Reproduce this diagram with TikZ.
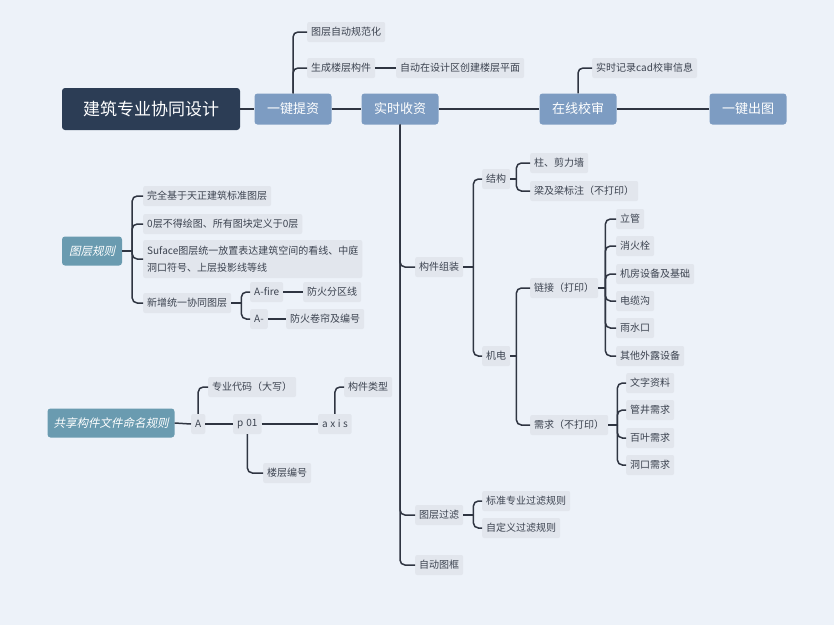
\documentclass[tikz,border=0pt]{standalone}
\usepackage{fontspec}
\setmainfont{Noto Sans CJK SC}
\newfontfamily\slantfont{Noto Sans CJK SC}[FakeSlant=0.22]
\usetikzlibrary{positioning}

\definecolor{bgcol}{HTML}{EDF2F9}
\definecolor{rootcol}{HTML}{2C3D55}
\definecolor{maincol}{HTML}{7D9CC2}
\definecolor{tealcol}{HTML}{6A9BB0}
\definecolor{leafcol}{HTML}{E2E6ED}
\definecolor{leaftext}{HTML}{3C4350}
\definecolor{linecol}{HTML}{2F3542}

\tikzset{
  leaf/.style={fill=leafcol, text=leaftext, rounded corners=2pt, inner xsep=4pt, inner ysep=0pt,
    minimum height=20pt, anchor=west, font=\fontsize{10}{14}\selectfont},
  topic/.style={fill=maincol, text=white, rounded corners=3pt, minimum width=77pt, minimum height=31pt,
    font=\fontsize{13}{15}\selectfont},
  rulebox/.style={fill=tealcol, text=white, rounded corners=3pt, minimum height=29pt, inner xsep=6pt,
    font=\slantfont\fontsize{11.5}{14}\selectfont},
  conn/.style={draw=linecol, line width=1.5pt, rounded corners=5pt},
}

\begin{document}
\begin{tikzpicture}[x=1pt, y=-1pt]
\fill[bgcol] (0,0) rectangle (834,625);
\useasboundingbox (0,0) rectangle (834,625);

% main row
\node (root) [fill=rootcol, text=white, rounded corners=3pt, minimum width=178pt, minimum height=42pt,
    font=\fontsize{17}{20}\selectfont] at (151,109) {建筑专业协同设计};
\node (tizi) [topic] at (293,109) {一键提资};
\node (shoushi) [topic] at (400,109) {实时收资};
\node (jiaoshen) [topic] at (578,109) {在线校审};
\node (chutu) [topic] at (748,109) {一键出图};

\draw[conn] (root.east) -- (tizi.west);
\draw[conn] (tizi.east) -- (shoushi.west);
\draw[conn] (shoushi.east) -- (jiaoshen.west);
\draw[conn] (jiaoshen.east) -- (chutu.west);

% 一键提资
\node (guifan) [leaf] at (307,32) {图层自动规范化};
\node (louceng) [leaf] at (307,68) {生成楼层构件};
\node (pingmian) [leaf] at (396,68) {自动在设计区创建楼层平面};
\draw[conn] (tizi.north) |- (guifan.west);
\draw[conn] (tizi.north) |- (louceng.west);
\draw[conn] (louceng.east) -- (pingmian.west);

% 在线校审
\node (jilu) [leaf] at (592,68) {实时记录cad校审信息};
\draw[conn] (jiaoshen.north) |- (jilu.west);

% 实时收资
\node (zuzhuang) [leaf] at (415,267) {构件组装};
\node (guolv) [leaf] at (415,515) {图层过滤};
\node (tukuang) [leaf] at (415,565) {自动图框};
\foreach \c in {zuzhuang, guolv, tukuang}
  \draw[conn] (shoushi.south) |- (\c.west);

\node (jiegou) [leaf] at (482,179) {结构};
\node (jidian) [leaf] at (482,356) {机电};
\draw[conn] (zuzhuang.east) -- ++(10,0) coordinate (zzbar);
\foreach \c in {jiegou, jidian}
  \draw[conn] (zzbar) |- (\c.west);

\node (zhu) [leaf] at (530,163) {柱、剪力墙};
\node (liang) [leaf] at (530,191) {梁及梁标注（不打印）};
\draw[conn] (jiegou.east) -- ++(6,0) coordinate (jgbar);
\foreach \c in {zhu, liang}
  \draw[conn] (jgbar) |- (\c.west);

\node (lianjie) [leaf] at (530,288) {链接（打印）};
\node (xuqiu) [leaf] at (530,425) {需求（不打印）};
\draw[conn] (jidian.east) -- ++(6,0) coordinate (jdbar);
\foreach \c in {lianjie, xuqiu}
  \draw[conn] (jdbar) |- (\c.west);

\node (ligguan) [leaf] at (616,219) {立管};
\node (xiaohuo) [leaf] at (616,246) {消火栓};
\node (jifang) [leaf] at (616,274) {机房设备及基础};
\node (dianlan) [leaf] at (616,301) {电缆沟};
\node (yushui) [leaf] at (616,328) {雨水口};
\node (qita) [leaf] at (616,356) {其他外露设备};
\draw[conn] (lianjie.east) -- ++(7,0) coordinate (ljbar);
\foreach \c in {ligguan, xiaohuo, jifang, dianlan, yushui, qita}
  \draw[conn] (ljbar) |- (\c.west);

\node (wenzi) [leaf] at (626,383) {文字资料};
\node (guanjing) [leaf] at (626,410) {管井需求};
\node (baiye) [leaf] at (626,438) {百叶需求};
\node (dongkou) [leaf] at (626,465) {洞口需求};
\draw[conn] (xuqiu.east) -- ++(9,0) coordinate (xqbar);
\foreach \c in {wenzi, guanjing, baiye, dongkou}
  \draw[conn] (xqbar) |- (\c.west);

\node (biaozhun) [leaf] at (482,501) {标准专业过滤规则};
\node (zidingyi) [leaf] at (482,528) {自定义过滤规则};
\draw[conn] (guolv.east) -- ++(10,0) coordinate (glbar);
\foreach \c in {biaozhun, zidingyi}
  \draw[conn] (glbar) |- (\c.west);

% 图层规则
\node (tcgz) [rulebox, minimum width=60pt] at (92,251) {图层规则};
\node (tianzheng) [leaf] at (143,196) {完全基于天正建筑标准图层};
\node (linghao) [leaf] at (143,224) {0层不得绘图、所有图块定义于0层};
\node (suface) [leaf, align=left, minimum height=38pt, font=\fontsize{10}{17}\selectfont] at (143,259)
  {Suface图层统一放置表达建筑空间的看线、中庭\\洞口符号、上层投影线等线};
\node (xinzeng) [leaf] at (143,303) {新增统一协同图层};
\draw[conn] (tcgz.east) -- ++(10,0) coordinate (tcbar);
\foreach \c in {tianzheng, linghao, suface, xinzeng}
  \draw[conn] (tcbar) |- (\c.west);

\node (afire) [leaf] at (250,292) {A-fire};
\node (aminus) [leaf] at (250,319) {A-};
\node (fenqu) [leaf] at (303,292) {防火分区线};
\node (juanlian) [leaf] at (286,319) {防火卷帘及编号};
\draw[conn] (xinzeng.east) -- ++(10,0) coordinate (xzbar);
\foreach \c in {afire, aminus}
  \draw[conn] (xzbar) |- (\c.west);
\draw[conn] (afire.east) -- (fenqu.west);
\draw[conn] (aminus.east) -- (juanlian.west);

% 共享构件文件命名规则
\node (mingming) [rulebox] at (111,423) {共享构件文件命名规则};
\node (ma) [leaf] at (191,424) {A};
\node (daima) [leaf] at (208,387) {专业代码（大写）};
\node (pzero) [leaf] at (233,424) {p\hspace{3pt}01};
\node (lcbh) [leaf] at (263,473) {楼层编号};
\node (axis) [leaf] at (318,424) {a\hspace{2.5pt}x\hspace{2.5pt}i\hspace{2.5pt}s};
\node (leixing) [leaf] at (344,387) {构件类型};
\draw[conn] (mingming.east) -- (ma.west);
\draw[conn] (ma.north) |- (daima.west);
\draw[conn] (ma.east) -- (pzero.west);
\draw[conn] (pzero.south) |- (lcbh.west);
\draw[conn] (pzero.east) -- (axis.west);
\draw[conn] (axis.north) |- (leixing.west);
\end{tikzpicture}
\end{document}
